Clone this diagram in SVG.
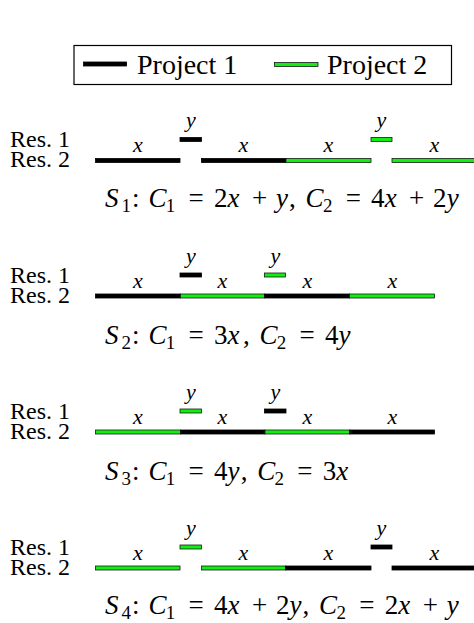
<svg xmlns="http://www.w3.org/2000/svg" width="474" height="623" viewBox="0 0 474 623" font-family="Liberation Serif, Tinos, Times New Roman, DejaVu Serif, Times, serif">
<style>
  .res { font-size: 24px; }
  .leg { font-size: 28px; }
  .lab { font-size: 22px; font-style: italic; text-anchor: middle; }
  .cap { font-size: 27px; }
  .i { font-style: italic; }
  .sub { font-size: 19px; }
  .p1 { fill: #000; stroke: #000; stroke-width: 0.8; }
  .p2 { fill: #11ee11; stroke: #1a1a1a; stroke-width: 0.8; }
</style>
<rect x="0" y="0" width="474" height="623" fill="#fff"/>

<g id="legend">
  <rect x="74" y="45.5" width="377.5" height="39" fill="#fff" stroke="#000" stroke-width="1.2"/>
  <rect class="p1" x="83.5" y="62" width="43" height="4"/>
  <text class="leg" x="137" y="73.5">Project 1</text>
  <rect class="p2" x="274.5" y="62.5" width="43.5" height="4"/>
  <text class="leg" x="327" y="73.5">Project 2</text>
</g>

<g id="schedule-1">
  <text class="res" x="10" y="147">Res. 1</text>
  <text class="res" x="10" y="167">Res. 2</text>
  <rect class="p1" x="95.5" y="158.5" width="84.5" height="4"/>
  <rect class="p1" x="180" y="137.5" width="21.5" height="4"/>
  <rect class="p1" x="201.5" y="158.5" width="84.5" height="4"/>
  <rect class="p2" x="286" y="158.5" width="85" height="4"/>
  <rect class="p2" x="371" y="137.5" width="21" height="4"/>
  <rect class="p2" x="392" y="158.5" width="85" height="4"/>
  <text class="lab" x="138" y="152">x</text>
  <text class="lab" x="191" y="127">y</text>
  <text class="lab" x="243.5" y="152">x</text>
  <text class="lab" x="328.5" y="152">x</text>
  <text class="lab" x="381.5" y="127">y</text>
  <text class="lab" x="434.5" y="152">x</text>
  <text class="cap" y="207"><tspan class="i" x="105">S</tspan><tspan class="sub" x="121.5" y="212">1</tspan><tspan x="131.9" y="207">:</tspan><tspan class="i" x="148.4">C</tspan><tspan class="sub" x="165.7" y="212">1</tspan><tspan x="188.5" y="207">=</tspan><tspan x="214">2</tspan><tspan class="i" x="227.5">x</tspan><tspan x="252">+</tspan><tspan class="i" x="276">y</tspan><tspan x="289">,</tspan><tspan class="i" x="305.6">C</tspan><tspan class="sub" x="323" y="212">2</tspan><tspan x="345.8" y="207">=</tspan><tspan x="371">4</tspan><tspan class="i" x="384.7">x</tspan><tspan x="409">+</tspan><tspan x="433">2</tspan><tspan class="i" x="446.7">y</tspan></text>
</g>

<g id="schedule-2">
  <text class="res" x="10" y="283">Res. 1</text>
  <text class="res" x="10" y="303">Res. 2</text>
  <rect class="p1" x="95.5" y="294" width="85" height="4"/>
  <rect class="p1" x="180" y="273" width="21.5" height="4"/>
  <rect class="p2" x="180.5" y="294" width="84" height="4"/>
  <rect class="p2" x="264.5" y="273" width="21" height="4"/>
  <rect class="p1" x="264.5" y="294" width="85" height="4"/>
  <rect class="p2" x="349.5" y="294" width="85" height="4"/>
  <text class="lab" x="138" y="288">x</text>
  <text class="lab" x="191" y="263">y</text>
  <text class="lab" x="222.5" y="288">x</text>
  <text class="lab" x="275.5" y="263">y</text>
  <text class="lab" x="307.5" y="288">x</text>
  <text class="lab" x="392.5" y="288">x</text>
  <text class="cap" y="344"><tspan class="i" x="105">S</tspan><tspan class="sub" x="121.5" y="349">2</tspan><tspan x="131.9" y="344">:</tspan><tspan class="i" x="148.4">C</tspan><tspan class="sub" x="165.7" y="349">1</tspan><tspan x="188.5" y="344">=</tspan><tspan x="214">3</tspan><tspan class="i" x="227.5">x</tspan><tspan x="243">,</tspan><tspan class="i" x="259.5">C</tspan><tspan class="sub" x="276.8" y="349">2</tspan><tspan x="299.6" y="344">=</tspan><tspan x="325">4</tspan><tspan class="i" x="338.5">y</tspan></text>
</g>

<g id="schedule-3">
  <text class="res" x="10" y="419">Res. 1</text>
  <text class="res" x="10" y="439">Res. 2</text>
  <rect class="p2" x="95.5" y="430" width="85" height="4"/>
  <rect class="p2" x="180" y="409" width="21.5" height="4"/>
  <rect class="p1" x="180.5" y="430" width="84.5" height="4"/>
  <rect class="p1" x="264.5" y="409" width="21.5" height="4"/>
  <rect class="p2" x="265" y="430" width="84.5" height="4"/>
  <rect class="p1" x="349.5" y="430" width="85" height="4"/>
  <text class="lab" x="138" y="424">x</text>
  <text class="lab" x="191" y="399">y</text>
  <text class="lab" x="222.5" y="424">x</text>
  <text class="lab" x="275.5" y="399">y</text>
  <text class="lab" x="307.5" y="424">x</text>
  <text class="lab" x="392.5" y="424">x</text>
  <text class="cap" y="480"><tspan class="i" x="105">S</tspan><tspan class="sub" x="121.5" y="485">3</tspan><tspan x="131.9" y="480">:</tspan><tspan class="i" x="148.4">C</tspan><tspan class="sub" x="165.7" y="485">1</tspan><tspan x="188.5" y="480">=</tspan><tspan x="214">4</tspan><tspan class="i" x="227.5">y</tspan><tspan x="240.7">,</tspan><tspan class="i" x="257.2">C</tspan><tspan class="sub" x="274.5" y="485">2</tspan><tspan x="297.3" y="480">=</tspan><tspan x="322.8">3</tspan><tspan class="i" x="336.3">x</tspan></text>
</g>

<g id="schedule-4">
  <text class="res" x="10" y="555">Res. 1</text>
  <text class="res" x="10" y="575">Res. 2</text>
  <rect class="p2" x="95.5" y="566" width="84.5" height="4"/>
  <rect class="p2" x="180" y="545" width="21.5" height="4"/>
  <rect class="p2" x="201.5" y="566" width="84" height="4"/>
  <rect class="p1" x="285.5" y="566" width="85.5" height="4"/>
  <rect class="p1" x="371" y="545" width="21" height="4"/>
  <rect class="p1" x="392" y="566" width="85" height="4"/>
  <text class="lab" x="138" y="560">x</text>
  <text class="lab" x="191" y="535">y</text>
  <text class="lab" x="243.5" y="560">x</text>
  <text class="lab" x="328.5" y="560">x</text>
  <text class="lab" x="381.5" y="535">y</text>
  <text class="lab" x="434.5" y="560">x</text>
  <text class="cap" y="614"><tspan class="i" x="105">S</tspan><tspan class="sub" x="121.5" y="619">4</tspan><tspan x="131.9" y="614">:</tspan><tspan class="i" x="148.4">C</tspan><tspan class="sub" x="165.7" y="619">1</tspan><tspan x="188.5" y="614">=</tspan><tspan x="214">4</tspan><tspan class="i" x="227.5">x</tspan><tspan x="252">+</tspan><tspan x="276">2</tspan><tspan class="i" x="289.5">y</tspan><tspan x="302.6">,</tspan><tspan class="i" x="319.1">C</tspan><tspan class="sub" x="336.5" y="619">2</tspan><tspan x="359.3" y="614">=</tspan><tspan x="384.7">2</tspan><tspan class="i" x="398.2">x</tspan><tspan x="422.8">+</tspan><tspan class="i" x="446.7">y</tspan></text>
</g>
</svg>
